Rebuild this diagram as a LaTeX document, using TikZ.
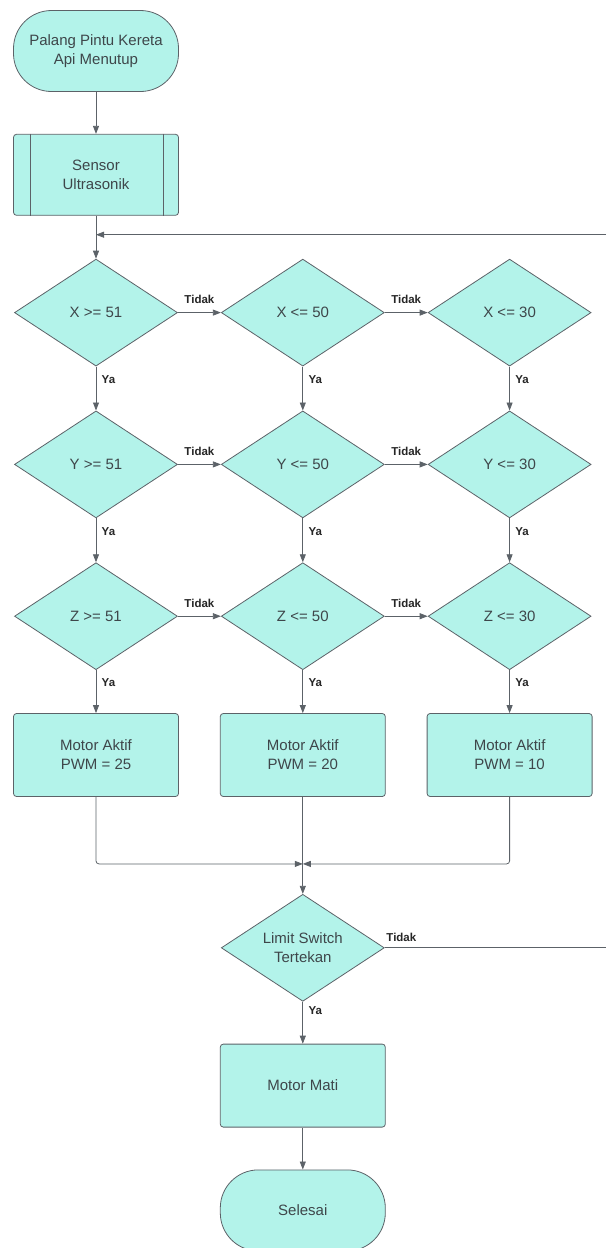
\documentclass[tikz,border=0pt]{standalone}
\usepackage{fontspec}
\setmainfont{Liberation Sans}
\usepackage{xcolor}
\usetikzlibrary{shapes.geometric, positioning, arrows.meta, calc}
\definecolor{flowfill}{RGB}{179, 243, 234}
\definecolor{flowline}{RGB}{92, 98, 104}
\definecolor{flowtext}{RGB}{62, 70, 74}

\begin{document}
\begin{tikzpicture}[
  font=\fontsize{15}{19}\selectfont,
  node distance=42pt,
  base/.style={
    draw=flowline, fill=flowfill, text=flowtext,
    line width=0.8pt, align=center
  },
  terminal/.style={base, rounded corners=38pt, minimum width=165pt, minimum height=81pt},
  process/.style={base, rounded corners=3pt, minimum width=165pt, minimum height=83pt},
  decision/.style={base, diamond, aspect=1.5, inner sep=0pt, minimum width=163pt, minimum height=107pt},
  line/.style={draw=flowline, line width=0.8pt},
  arrow/.style={line, -{Triangle[length=8pt,width=6pt]}},
  lbl/.style={font=\fontsize{11.5}{13}\selectfont\bfseries, text=black!85},
  ya/.style={lbl, pos=0.3, right=2pt},
  tidak/.style={lbl, midway, above=5pt}
]
\useasboundingbox (0,0) rectangle (606pt,-1248pt);
\coordinate (edge) at (606pt,0);

\node[terminal] (start) at (96pt,-51pt) {Palang Pintu Kereta\\Api Menutup};
\node[process, minimum height=81pt, below=of start] (sensor) {Sensor\\Ultrasonik};
\draw[line] ([xshift=17pt]sensor.north west) -- ([xshift=17pt]sensor.south west);
\draw[line] ([xshift=-16pt]sensor.north east) -- ([xshift=-16pt]sensor.south east);
\coordinate[below=19pt of sensor] (join);

\node[decision, below=43pt of sensor] (x1) {X >= 51};
\node[decision, right=43pt of x1] (x2) {X <= 50};
\node[decision, right=43pt of x2] (x3) {X <= 30};
\node[decision, below=44pt of x1] (y1) {Y >= 51};
\node[decision, below=44pt of x2] (y2) {Y <= 50};
\node[decision, below=44pt of x3] (y3) {Y <= 30};
\node[decision, below=44pt of y1] (z1) {Z >= 51};
\node[decision, below=44pt of y2] (z2) {Z <= 50};
\node[decision, below=44pt of y3] (z3) {Z <= 30};

\node[process, below=43pt of z1] (m1) {Motor Aktif\\PWM = 25};
\node[process, below=43pt of z2] (m2) {Motor Aktif\\PWM = 20};
\node[process, below=43pt of z3] (m3) {Motor Aktif\\PWM = 10};
\coordinate[below=67pt of m2] (merge);

\node[decision, below=97pt of m2] (limit) {Limit Switch\\Tertekan};
\node[process, below=of limit] (mati) {Motor Mati};
\node[terminal, below=of mati] (selesai) {Selesai};

\draw[arrow] (start) -- (sensor);
\draw[line] (sensor) -- (join);
\draw[arrow] (join) -- (x1);
\draw[arrow] (join -| edge) -- (join);

\draw[arrow] (x1) -- node[tidak] {Tidak} (x2);
\draw[arrow] (x2) -- node[tidak] {Tidak} (x3);
\draw[arrow] (y1) -- node[tidak] {Tidak} (y2);
\draw[arrow] (y2) -- node[tidak] {Tidak} (y3);
\draw[arrow] (z1) -- node[tidak] {Tidak} (z2);
\draw[arrow] (z2) -- node[tidak] {Tidak} (z3);

\draw[arrow] (x1) -- node[ya] {Ya} (y1);
\draw[arrow] (x2) -- node[ya] {Ya} (y2);
\draw[arrow] (x3) -- node[ya] {Ya} (y3);
\draw[arrow] (y1) -- node[ya] {Ya} (z1);
\draw[arrow] (y2) -- node[ya] {Ya} (z2);
\draw[arrow] (y3) -- node[ya] {Ya} (z3);
\draw[arrow] (z1) -- node[ya] {Ya} (m1);
\draw[arrow] (z2) -- node[ya] {Ya} (m2);
\draw[arrow] (z3) -- node[ya] {Ya} (m3);

\draw[arrow, rounded corners=3pt] (m1) |- (merge);
\draw[arrow, rounded corners=3pt] (m3) |- (merge);
\draw[arrow] (m2) -- (limit);

\draw[line] (limit.east) -- node[lbl, pos=0, above right, xshift=-2pt, yshift=2pt] {Tidak} (limit.east -| edge);
\draw[arrow] (limit) -- node[ya, pos=0.2] {Ya} (mati);
\draw[arrow] (mati) -- (selesai);
\end{tikzpicture}
\end{document}
